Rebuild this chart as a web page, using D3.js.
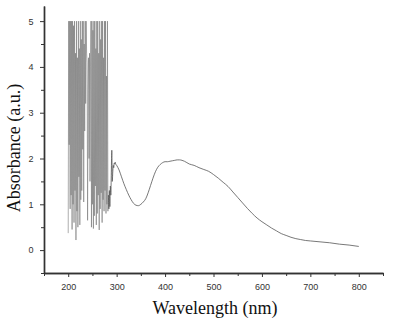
<!DOCTYPE html>
<html><head><meta charset="utf-8">
<script src="https://cdn.jsdelivr.net/npm/d3@7"></script>
<style>body{margin:0;background:#fff}svg{display:block}</style>
</head><body>
<svg id="c" width="413" height="326"></svg>
<script>
// Noisy UV region (1 nm steps, 200–282 nm), clipped at 5
const noisyStart = 200;
const noisyValues = [0.37,5,2.3,5,0.9,5,1.2,5,0.45,5,1.0,4.9,0.6,5,1.3,4.3,0.22,5,0.85,4.2,0.5,5,1.6,4.4,0.55,5,1.1,4.6,1.3,5,2.2,5,1.05,4.5,2.6,5,3.2,5,4.3,4.1,0.65,3.5,4.2,2.0,4.3,1.5,4.0,5,0.5,5,1.0,4.8,0.47,5,0.75,5,1.4,4.4,0.55,5,0.8,5,1.2,4.3,0.44,5,0.9,4.6,1.25,5,0.6,5,1.1,4.2,0.85,5,1.3,5,0.8,3.8,1.0,5,0.85];
// Smooth region
const smoothWl = [283,284,285,286,287,288,289,290,291,292,293,294,295,296,297,298,300,305,310,315,320,325,330,335,340,345,350,355,360,365,370,375,380,385,390,395,400,405,410,415,420,425,430,435,440,445,450,460,470,480,490,500,510,520,530,540,550,560,570,580,590,600,610,620,630,640,650,660,670,680,690,700,720,740,760,780,800];
const smoothAbs = [1.2,0.9,1.3,0.95,1.4,1.2,1.7,2.18,1.5,1.7,1.85,1.8,1.9,1.88,1.92,1.88,1.85,1.75,1.6,1.45,1.32,1.2,1.1,1.02,0.98,0.97,1.0,1.05,1.12,1.25,1.41,1.57,1.71,1.81,1.87,1.91,1.93,1.93,1.94,1.95,1.96,1.97,1.97,1.96,1.94,1.91,1.88,1.85,1.8,1.76,1.72,1.65,1.57,1.48,1.39,1.27,1.15,1.03,0.91,0.8,0.7,0.62,0.55,0.48,0.42,0.36,0.32,0.28,0.25,0.23,0.21,0.2,0.18,0.16,0.13,0.11,0.08];
const xTicks = [200,300,400,500,600,700,800];
const yTicks = [0,1,2,3,4,5];
const xLabel = "Wavelength (nm)";
const yLabel = "Absorbance (a.u.)";

const svg = d3.select("#c");
const x = d3.scaleLinear().domain([150,850]).range([44,383]);
const y = d3.scaleLinear().domain([-0.5,5.33]).range([273,6]);

const noisy = noisyValues.map((v,i)=>[noisyStart+i,v]);
const smooth = smoothWl.map((w,i)=>[w,smoothAbs[i]]);
const line = d3.line().x(d=>x(d[0])).y(d=>y(d[1]));
const sline = d3.line().x(d=>x(d[0])).y(d=>y(d[1])).curve(d3.curveMonotoneX);

svg.append("path").datum(noisy.concat([smooth[0]]))
  .attr("d",line).attr("fill","none").attr("stroke","#777").attr("stroke-width",0.6);
svg.append("path").datum(smooth)
  .attr("d",sline).attr("fill","none").attr("stroke","#555").attr("stroke-width",0.8);

// minor ticks
const minorX = d3.range(150,851,50).filter(v=>v%100!==0);
const minorY = d3.range(-0.5,5.4,0.5).filter(v=>Math.abs(v%1)>0.1);
const gx = svg.append("g").attr("transform","translate(0,273)");
gx.call(d3.axisBottom(x).tickValues(xTicks).tickSize(4).tickSizeOuter(0).tickFormat(d3.format("d")));
gx.append("g").call(d3.axisBottom(x).tickValues(minorX).tickSize(3).tickFormat("").tickSizeOuter(0));
const gy = svg.append("g").attr("transform","translate(44,0)");
gy.call(d3.axisLeft(y).tickValues(yTicks).tickSize(4).tickSizeOuter(0).tickFormat(d3.format("d")));
gy.append("g").call(d3.axisLeft(y).tickValues(minorY).tickSize(3).tickFormat("").tickSizeOuter(0));

svg.selectAll(".domain").attr("stroke","#333").attr("stroke-width",1.4);
svg.selectAll(".tick line").attr("stroke","#333").attr("stroke-width",1);
svg.selectAll(".tick text").attr("font-family","Liberation Sans, Arial, sans-serif").attr("font-size",9).attr("fill","#333");
gx.selectAll(".tick text").attr("dy","1.1em");
gy.selectAll(".tick text").attr("dx","-0.4em");

svg.append("text").attr("x",215).attr("y",314).attr("text-anchor","middle")
  .attr("font-family","Liberation Serif, Times New Roman, serif").attr("font-size",18).attr("fill","#111").text(xLabel);
svg.append("text").attr("transform","translate(20,148) rotate(-90)").attr("text-anchor","middle")
  .attr("font-family","Liberation Serif, Times New Roman, serif").attr("font-size",18).attr("fill","#111").text(yLabel);
</script>
</body></html>
